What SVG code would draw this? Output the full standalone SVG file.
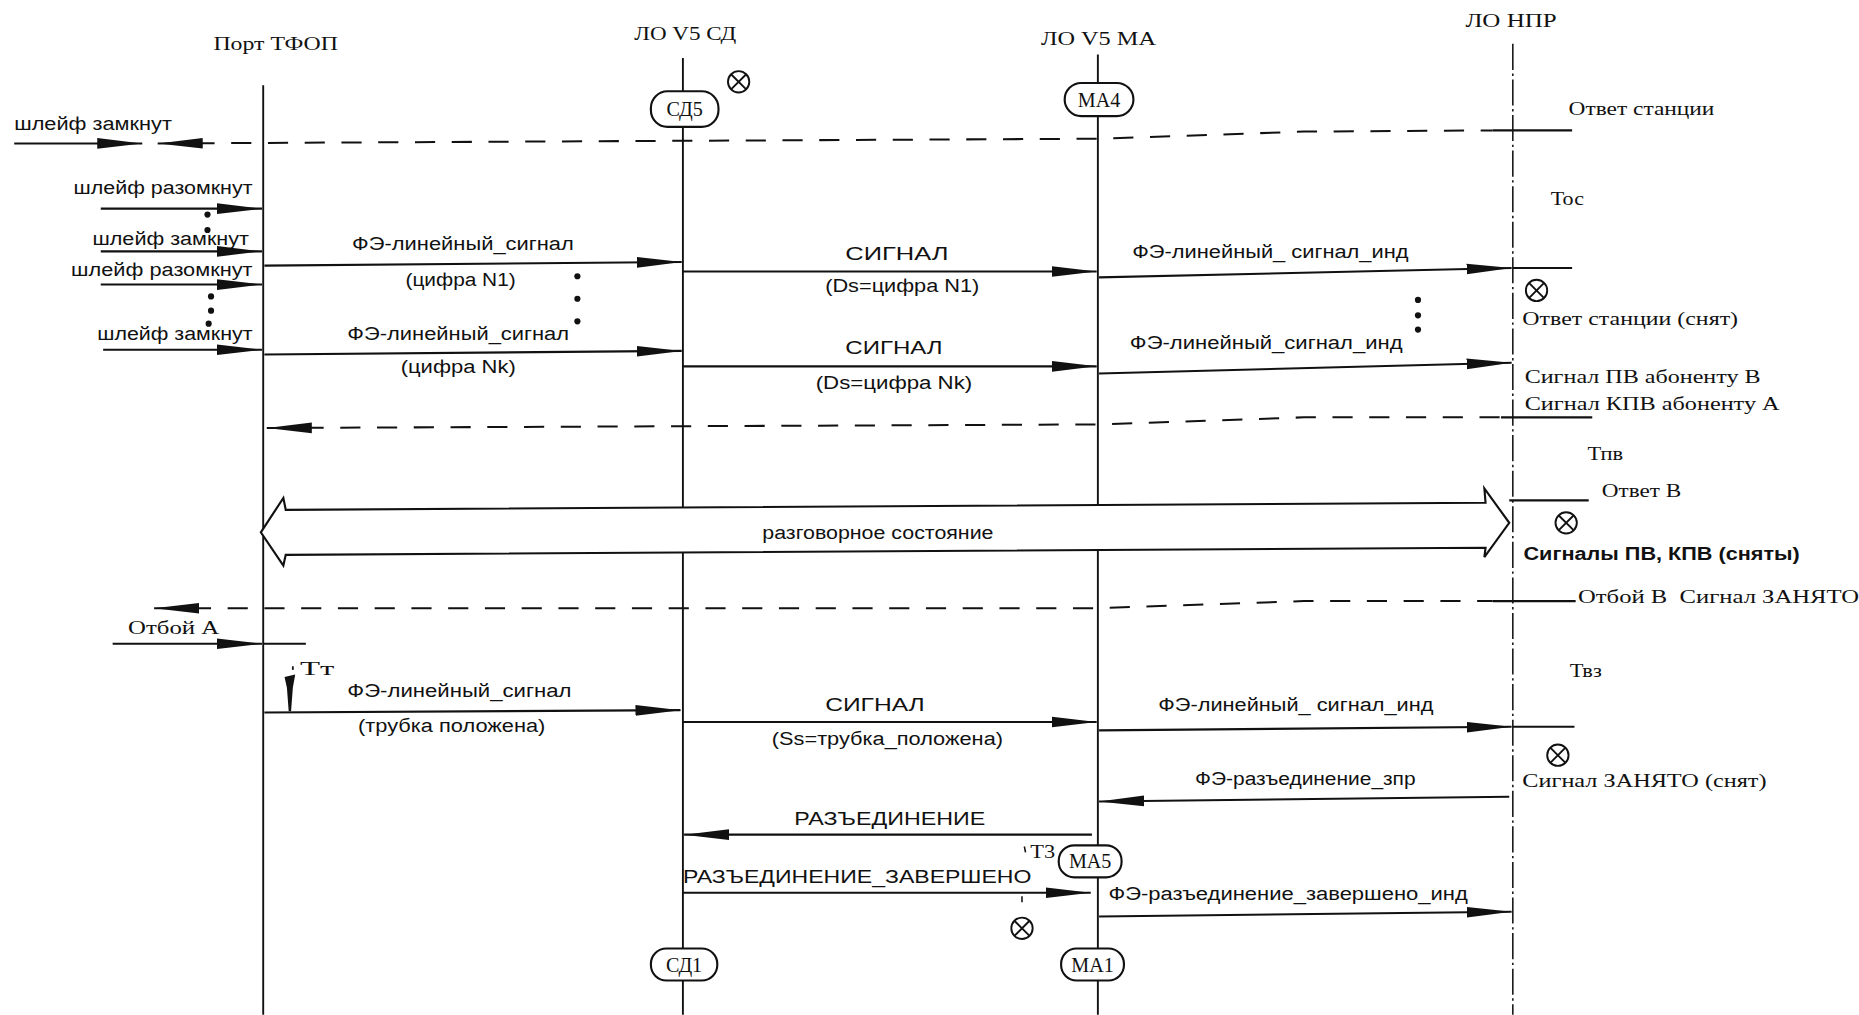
<svg xmlns="http://www.w3.org/2000/svg" width="1859" height="1015" viewBox="0 0 1859 1015">
<style>
.ll{stroke:#111;stroke-width:1.6;fill:none}
.npr{stroke:#111;stroke-width:1.3;fill:none;stroke-dasharray:22 3 2 3}
.m{stroke:#111;stroke-width:1.8;fill:none}
.d{stroke:#111;stroke-width:1.7;fill:none;stroke-dasharray:17 14}
.ov{fill:#fff;stroke:#111;stroke-width:1.8}
.dot{fill:#111}
text{fill:#111}
.sa{font-family:"Liberation Sans",Arial,sans-serif;font-size:15px}
.sb{font-family:"Liberation Sans",Arial,sans-serif;font-size:16px}
.se{font-family:"Liberation Serif","Times New Roman",serif;font-size:16px}
.ti{font-family:"Liberation Serif","Times New Roman",serif;font-size:16px}
.on{font-family:"Liberation Serif","Times New Roman",serif;font-size:17px}
.c{text-anchor:middle}
</style>
<defs>
<marker id="ah" markerWidth="38" markerHeight="11" refX="38" refY="5.5" orient="auto-start-reverse" markerUnits="userSpaceOnUse">
<path d="M0,1 L38,5.5 L0,10 z" fill="#111"/>
</marker>
<g id="otimes">
<circle cx="0" cy="0" r="9" fill="#fff" stroke="#111" stroke-width="1.6"/>
<path d="M-6.4,-6.4 L6.4,6.4 M-6.4,6.4 L6.4,-6.4" stroke="#111" stroke-width="1.6"/>
</g>
</defs>
<rect x="0" y="0" width="1859" height="1015" fill="#fff"/>
<g transform="scale(1.1856)">

<g id="lifelines">
<line class="ll" x1="222" y1="72" x2="222" y2="856"/>
<line class="ll" x1="576" y1="49" x2="576" y2="856"/>
<line class="ll" x1="926" y1="46" x2="926" y2="856"/>
<line class="npr" x1="1276" y1="37" x2="1276" y2="856"/>
</g>

<g id="node-port">
<text class="ti" x="180" y="42" textLength="105" lengthAdjust="spacingAndGlyphs">Порт ТФОП</text>
</g>
<g id="node-sd">
<text class="ti" x="535" y="34" textLength="86" lengthAdjust="spacingAndGlyphs">ЛО V5 СД</text>
</g>
<g id="node-ma">
<text class="ti" x="878" y="38" textLength="97" lengthAdjust="spacingAndGlyphs">ЛО V5 МА</text>
</g>
<g id="node-npr">
<text class="ti" x="1236" y="23" textLength="77" lengthAdjust="spacingAndGlyphs">ЛО НПР</text>
</g>

<g id="connectors">
<line class="m" x1="12" y1="121" x2="120" y2="121" marker-end="url(#ah)"/>
<polyline class="d" points="133,121 926,117 1100,111 1259,110" marker-start="url(#ah)"/>
<line class="m" x1="1259" y1="110" x2="1326" y2="110"/>
<line class="m" x1="85" y1="176" x2="221" y2="176" marker-end="url(#ah)"/>
<line class="m" x1="85" y1="212" x2="221" y2="212" marker-end="url(#ah)"/>
<line class="m" x1="85" y1="240" x2="221" y2="240" marker-end="url(#ah)"/>
<line class="m" x1="87" y1="295" x2="221" y2="295" marker-end="url(#ah)"/>
<line class="m" x1="223" y1="224" x2="575" y2="221" marker-end="url(#ah)"/>
<line class="m" x1="223" y1="299" x2="575" y2="296" marker-end="url(#ah)"/>
<line class="m" x1="576" y1="229" x2="925" y2="229" marker-end="url(#ah)"/>
<line class="m" x1="576" y1="309" x2="925" y2="309" marker-end="url(#ah)"/>
<line class="m" x1="927" y1="234" x2="1275" y2="226" marker-end="url(#ah)"/>
<line class="m" x1="1276" y1="226" x2="1326" y2="226"/>
<line class="m" x1="927" y1="315" x2="1275" y2="306" marker-end="url(#ah)"/>
<polyline class="d" points="225,361 926,358 1100,352 1266,352" marker-start="url(#ah)"/>
<line class="m" x1="1266" y1="352" x2="1343" y2="352"/>
<line class="m" x1="1273" y1="422" x2="1340" y2="422"/>
<polygon points="220,449 239,420 241,430 1253,424 1252,412 1273,441 1252,470 1253,462 241,468 239,477" fill="#fff" stroke="#111" stroke-width="1.8" stroke-linejoin="miter"/>
<polyline class="d" points="130,513 926,513 1100,507 1259,507" marker-start="url(#ah)"/>
<line class="m" x1="1259" y1="507" x2="1329" y2="507"/>
<line class="m" x1="95" y1="543" x2="221" y2="543" marker-end="url(#ah)"/>
<line class="m" x1="222" y1="543" x2="258" y2="543"/>
<line class="m" x1="223" y1="601" x2="574" y2="599" marker-end="url(#ah)"/>
<line class="m" x1="576" y1="609" x2="925" y2="609" marker-end="url(#ah)"/>
<line class="m" x1="927" y1="616" x2="1275" y2="613" marker-end="url(#ah)"/>
<line class="m" x1="1276" y1="613" x2="1328" y2="613"/>
<line class="m" x1="1273" y1="672" x2="927" y2="676" marker-end="url(#ah)"/>
<line class="m" x1="921" y1="704" x2="577" y2="704" marker-end="url(#ah)"/>
<line class="m" x1="576" y1="753" x2="920" y2="753" marker-end="url(#ah)"/>
<line class="m" x1="927" y1="773" x2="1275" y2="769" marker-end="url(#ah)"/>
<polygon points="240,571 249,569 247,580 245.5,600 243.5,600 242,580" fill="#111"/>
<line x1="247" y1="562" x2="247" y2="565" stroke="#111" stroke-width="1.5"/>
<line x1="864" y1="714" x2="865" y2="719" stroke="#111" stroke-width="1.3"/>
<line x1="862" y1="756" x2="862" y2="761" stroke="#111" stroke-width="1.3"/>
</g>

<g id="node-sd5">
<rect class="ov" x="549" y="77" width="57" height="30" rx="14"/>
<text class="on c" x="577.5" y="98">СД5</text>
</g>
<g id="node-ma4">
<rect class="ov" x="898" y="70" width="58" height="28" rx="14"/>
<text class="on c" x="927" y="90">МА4</text>
</g>
<g id="node-ma5">
<rect class="ov" x="893" y="713" width="53" height="27" rx="13"/>
<text class="on c" x="919.5" y="732.5">МА5</text>
</g>
<g id="node-sd1">
<rect class="ov" x="549" y="800" width="56" height="27" rx="13"/>
<text class="on c" x="577" y="819.5">СД1</text>
</g>
<g id="node-ma1">
<rect class="ov" x="895" y="800" width="53" height="27" rx="13"/>
<text class="on c" x="921.5" y="819.5">МА1</text>
</g>

<g id="symbols">
<use href="#otimes" x="623" y="69"/>
<use href="#otimes" x="1296" y="245"/>
<use href="#otimes" x="1321" y="441"/>
<use href="#otimes" x="1314" y="637"/>
<use href="#otimes" x="862" y="783"/>
<circle class="dot" cx="175" cy="181" r="2.6"/>
<circle class="dot" cx="175" cy="194" r="2.6"/>
<circle class="dot" cx="178" cy="250" r="2.6"/>
<circle class="dot" cx="178" cy="262" r="2.6"/>
<circle class="dot" cx="176" cy="273" r="2.6"/>
<circle class="dot" cx="487" cy="233" r="2.6"/>
<circle class="dot" cx="487" cy="252" r="2.6"/>
<circle class="dot" cx="487" cy="271" r="2.6"/>
<circle class="dot" cx="1196" cy="253" r="2.6"/>
<circle class="dot" cx="1196" cy="266" r="2.6"/>
<circle class="dot" cx="1196" cy="278" r="2.6"/>
</g>

<g id="labels">
<text class="sa" x="12" y="110" textLength="133" lengthAdjust="spacingAndGlyphs">шлейф замкнут</text>
<text class="sa" x="62" y="164" textLength="151" lengthAdjust="spacingAndGlyphs">шлейф разомкнут</text>
<text class="sa" x="78" y="207" textLength="132" lengthAdjust="spacingAndGlyphs">шлейф замкнут</text>
<text class="sa" x="60" y="233" textLength="153" lengthAdjust="spacingAndGlyphs">шлейф разомкнут</text>
<text class="sa" x="82" y="287" textLength="131" lengthAdjust="spacingAndGlyphs">шлейф замкнут</text>
<text class="se" x="108" y="535" textLength="77" lengthAdjust="spacingAndGlyphs">Отбой А</text>

<text class="sa" x="297" y="211" textLength="187" lengthAdjust="spacingAndGlyphs">ФЭ-линейный_сигнал</text>
<text class="sa" x="342" y="241" textLength="93" lengthAdjust="spacingAndGlyphs">(цифра N1)</text>
<text class="sa" x="293" y="287" textLength="187" lengthAdjust="spacingAndGlyphs">ФЭ-линейный_сигнал</text>
<text class="sa" x="338" y="315" textLength="97" lengthAdjust="spacingAndGlyphs">(цифра Nk)</text>
<text class="sa" x="293" y="588" textLength="189" lengthAdjust="spacingAndGlyphs">ФЭ-линейный_сигнал</text>
<text class="sa" x="302" y="617" textLength="158" lengthAdjust="spacingAndGlyphs">(трубка положена)</text>
<text class="se" x="253" y="569" textLength="29" lengthAdjust="spacingAndGlyphs">Тт</text>

<text class="sb" x="713" y="219" textLength="87" lengthAdjust="spacingAndGlyphs">СИГНАЛ</text>
<text class="sa" x="696" y="246" textLength="130" lengthAdjust="spacingAndGlyphs">(Ds=цифра N1)</text>
<text class="sb" x="713" y="299" textLength="82" lengthAdjust="spacingAndGlyphs">СИГНАЛ</text>
<text class="sa" x="688" y="328" textLength="132" lengthAdjust="spacingAndGlyphs">(Ds=цифра Nk)</text>
<text class="sa" x="643" y="455" textLength="195" lengthAdjust="spacingAndGlyphs">разговорное состояние</text>
<text class="sb" x="696" y="600" textLength="84" lengthAdjust="spacingAndGlyphs">СИГНАЛ</text>
<text class="sa" x="651" y="628" textLength="195" lengthAdjust="spacingAndGlyphs">(Ss=трубка_положена)</text>
<text class="sb" x="670" y="696" textLength="161" lengthAdjust="spacingAndGlyphs">РАЗЪЕДИНЕНИЕ</text>
<text class="sb" x="576" y="745" textLength="294" lengthAdjust="spacingAndGlyphs">РАЗЪЕДИНЕНИЕ_ЗАВЕРШЕНО</text>
<text class="se" x="869" y="724" textLength="21" lengthAdjust="spacingAndGlyphs">Т3</text>

<text class="sa" x="955" y="218" textLength="233" lengthAdjust="spacingAndGlyphs">ФЭ-линейный_ сигнал_инд</text>
<text class="sa" x="953" y="294" textLength="230" lengthAdjust="spacingAndGlyphs">ФЭ-линейный_сигнал_инд</text>
<text class="sa" x="977" y="600" textLength="232" lengthAdjust="spacingAndGlyphs">ФЭ-линейный_ сигнал_инд</text>
<text class="sa" x="1008" y="662" textLength="186" lengthAdjust="spacingAndGlyphs">ФЭ-разъединение_зпр</text>
<text class="sa" x="935" y="759" textLength="303" lengthAdjust="spacingAndGlyphs">ФЭ-разъединение_завершено_инд</text>

<text class="se" x="1323" y="97" textLength="123" lengthAdjust="spacingAndGlyphs">Ответ станции</text>
<text class="se" x="1308" y="173" textLength="28" lengthAdjust="spacingAndGlyphs">Тос</text>
<text class="se" x="1284" y="274" textLength="182" lengthAdjust="spacingAndGlyphs">Ответ станции (снят)</text>
<text class="se" x="1286" y="323" textLength="199" lengthAdjust="spacingAndGlyphs">Сигнал ПВ абоненту В</text>
<text class="se" x="1286" y="346" textLength="215" lengthAdjust="spacingAndGlyphs">Сигнал КПВ абоненту А</text>
<text class="se" x="1339" y="388" textLength="30" lengthAdjust="spacingAndGlyphs">Тпв</text>
<text class="se" x="1351" y="419" textLength="67" lengthAdjust="spacingAndGlyphs">Ответ В</text>
<text class="sa" x="1285" y="472" font-weight="bold" textLength="233" lengthAdjust="spacingAndGlyphs">Сигналы ПВ, КПВ (сняты)</text>
<text class="se" x="1331" y="509" textLength="237" lengthAdjust="spacingAndGlyphs" xml:space="preserve">Отбой В  Сигнал ЗАНЯТО</text>
<text class="se" x="1324" y="571" textLength="27" lengthAdjust="spacingAndGlyphs">Твз</text>
<text class="se" x="1284" y="664" textLength="206" lengthAdjust="spacingAndGlyphs">Сигнал ЗАНЯТО (снят)</text>
</g>
</g>
</svg>
